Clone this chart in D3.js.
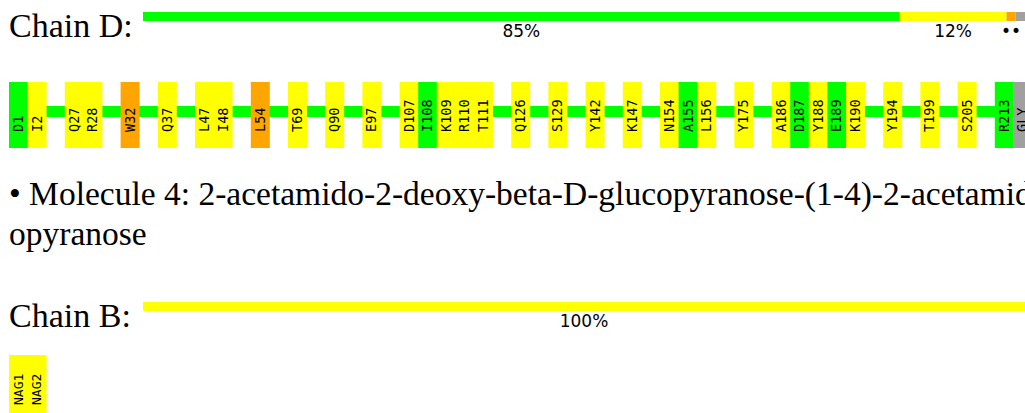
<!DOCTYPE html>
<html>
<head>
	<meta charset="utf-8">
	<script src="https://d3js.org/d3.v7.min.js"></script>
	<title>Chain D / Molecule 4</title>
	<style>
		body { margin: 0; background: #fff; }
		svg { display: block; }
	</style>
</head>
<body>
	<div id="chart"></div>

	<script type="text/javascript">

		// quality bar for chain D (fraction of residues in each class)
		var chainDFractions = [0.858, 0.121, 0.0105, 0.0105];
		var chainDClasses = ["good", "warn", "bad", "none"];
		var chainDLabels = ["85%", "12%", "••", ""];

		// chain B has only one class
		var chainBFractions = [1.0];
		var chainBClasses = ["warn"];
		var chainBLabels = ["100%"];

		// residues of chain D that are drawn, with their slot in the row
		var residueNames = ["D1", "I2", "Q27", "R28", "W32", "Q37", "L47", "I48", "L54", "T69",
			"Q90", "E97", "D107", "I108", "K109", "R110", "T111", "Q126", "S129", "Y142",
			"K147", "N154", "A155", "L156", "Y175", "A186", "D187", "Y188", "E189", "K190",
			"Y194", "T199", "S205", "R213", "GLY"];
		var residueSlots = [0, 1, 3, 4, 6, 8, 10, 11, 13, 15,
			17, 19, 21, 22, 23, 24, 25, 27, 29, 31,
			33, 35, 36, 37, 39, 41, 42, 43, 44, 45,
			47, 49, 51, 53, 54];
		var residueClasses = ["good", "warn", "warn", "warn", "bad", "warn", "warn", "warn", "bad", "warn",
			"warn", "warn", "warn", "good", "warn", "warn", "warn", "warn", "warn", "warn",
			"warn", "warn", "good", "warn", "warn", "warn", "good", "warn", "good", "warn",
			"warn", "warn", "warn", "good", "none"];

		// chain B ligand residues
		var ligandNames = ["NAG1", "NAG2"];
		var ligandSlots = [0, 1];
		var ligandClasses = ["warn", "warn"];

		var colors = {good: "#00ff00", warn: "#ffff00", bad: "#ffa500", none: "#a0a0a0"};

		var width = 1025, height = 413;
		var serif = "'Liberation Serif', 'DejaVu Serif', serif";

		var svg = d3.select("#chart").append("svg")
			.attr("width", width)
			.attr("height", height);

		// bar scale shared by both chains
		var barScale = d3.scaleLinear().domain([0, 1]).range([143, 1025]);

		function drawBar(fracs, classes, labels, y0, labelY){
			var starts = [];
			var acc = 0;
			fracs.forEach(function(f){ starts.push(acc); acc += f; });
			var g = svg.append("g");
			g.selectAll("rect")
				.data(fracs).enter().append("rect")
				.attr("x", function(d, i){ return barScale(starts[i]); })
				.attr("y", y0)
				.attr("width", function(d){ return barScale(d) - barScale(0); })
				.attr("height", 9)
				.attr("fill", function(d, i){ return colors[classes[i]]; });
			g.selectAll("text")
				.data(labels).enter().append("text")
				.attr("x", function(d, i){ return barScale(starts[i] + fracs[i] / 2); })
				.attr("y", labelY)
				.attr("text-anchor", "middle")
				.attr("font-family", "'DejaVu Sans', sans-serif")
				.attr("font-size", 17)
				.text(function(d){ return d; });
		}

		// Chain D
		svg.append("text")
			.attr("x", 9).attr("y", 37)
			.attr("font-family", serif).attr("font-size", 34)
			.text("Chain D:");
		drawBar(chainDFractions, chainDClasses, chainDLabels, 12, 37);

		// residue row
		var slotScale = d3.scaleLinear().domain([0, 1]).range([9, 27.6]);
		var slotW = slotScale(1) - slotScale(0);

		svg.append("rect")
			.attr("x", slotScale(0)).attr("y", 106)
			.attr("width", width - slotScale(0)).attr("height", 11)
			.attr("fill", colors.good);

		var res = svg.append("g");
		res.selectAll("rect")
			.data(residueNames).enter().append("rect")
			.attr("x", function(d, i){ return slotScale(residueSlots[i]); })
			.attr("y", 82)
			.attr("width", slotW + 0.4)
			.attr("height", 66)
			.attr("fill", function(d, i){ return colors[residueClasses[i]]; });
		res.selectAll("text")
			.data(residueNames).enter().append("text")
			.attr("transform", function(d, i){
				return "translate(" + (slotScale(residueSlots[i]) + slotW / 2) + ",132) rotate(-90)";
			})
			.attr("dy", "0.35em")
			.attr("font-family", "'DejaVu Sans Mono', monospace")
			.attr("font-size", 13.5)
			.text(function(d){ return d; });

		// Molecule 4 description
		svg.append("text")
			.attr("x", 9).attr("y", 205)
			.attr("font-family", serif).attr("font-size", 33.5)
			.text("• Molecule 4: 2-acetamido-2-deoxy-beta-D-glucopyranose-(1-4)-2-acetamido-2-deoxy-beta-D-gluc");
		svg.append("text")
			.attr("x", 9).attr("y", 245)
			.attr("font-family", serif).attr("font-size", 33.5)
			.text("opyranose");

		// Chain B
		svg.append("text")
			.attr("x", 9).attr("y", 327)
			.attr("font-family", serif).attr("font-size", 34)
			.text("Chain B:");
		drawBar(chainBFractions, chainBClasses, chainBLabels, 302, 327);

		var lig = svg.append("g");
		lig.selectAll("rect")
			.data(ligandNames).enter().append("rect")
			.attr("x", function(d, i){ return slotScale(ligandSlots[i]); })
			.attr("y", 355)
			.attr("width", slotW + 0.4)
			.attr("height", 60)
			.attr("fill", function(d, i){ return colors[ligandClasses[i]]; });
		lig.selectAll("text")
			.data(ligandNames).enter().append("text")
			.attr("transform", function(d, i){
				return "translate(" + (slotScale(ligandSlots[i]) + slotW / 2) + ",405) rotate(-90)";
			})
			.attr("dy", "0.35em")
			.attr("font-family", "'DejaVu Sans Mono', monospace")
			.attr("font-size", 13)
			.text(function(d){ return d; });

	</script>
</body>
</html>
